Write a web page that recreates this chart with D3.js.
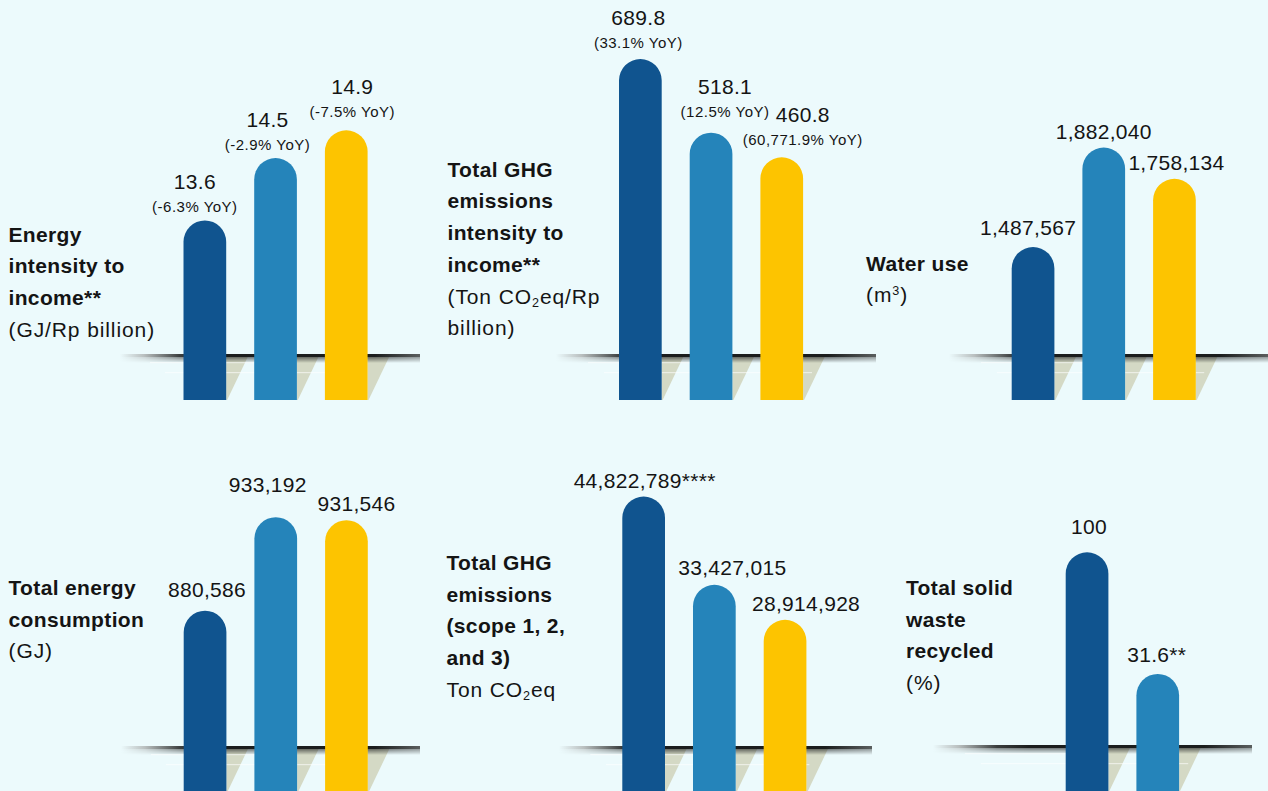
<!DOCTYPE html>
<html>
<head>
<meta charset="utf-8">
<script src="https://cdn.jsdelivr.net/npm/d3@7/dist/d3.min.js"></script>
<style>
  html, body { margin: 0; padding: 0; background: #ecfafc; }
  svg { display: block; }
  text { font-family: "Liberation Sans", Arial, Helvetica, sans-serif; fill: #141414; }
</style>
</head>
<body>
<svg id="chart" width="1268" height="791"></svg>
<script>
// ---- data -------------------------------------------------------------
const years = ["2021", "2022", "2023"];

const energyIntensity    = [13.6, 14.5, 14.9];
const energyIntensityYoY = ["-6.3%", "-2.9%", "-7.5%"];

const ghgIntensity    = [689.8, 518.1, 460.8];
const ghgIntensityYoY = ["33.1%", "12.5%", "60,771.9%"];

const waterUse = [1487567, 1882040, 1758134];

const energyConsumption = [880586, 933192, 931546];

const ghgTotal      = [44822789, 33427015, 28914928];
const ghgTotalNotes = ["****", "", ""];

const wasteRecycled      = [100, 31.6];
const wasteRecycledNotes = ["", "**"];

const barColors = ["#10548f", "#2584ba", "#fdc400"];

// ---- panel layout -----------------------------------------------------
const panels = [
  { values: energyIntensity, yoy: energyIntensityYoY,
    title: ["Energy", "intensity to", "income**"], unit: ["(GJ/Rp billion)"],
    titleX: 8.5, titleY: 241.7,
    x0: 183.5, floorY: 355, bottomY: 400, floorX: [120, 420],
    domain: [11.66, 14.9], maxH: 224.7,
    nudge: [[-10, 0], [-8, 0], [6, -5]] },
  { values: ghgIntensity, yoy: ghgIntensityYoY,
    title: ["Total GHG", "emissions", "intensity to", "income**"],
    unit: ["(Ton CO_{2}eq/Rp", "billion)"],
    titleX: 447.5, titleY: 176.7,
    x0: 619, floorY: 355, bottomY: 400, floorX: [556, 876],
    domain: [0, 689.8], maxH: 296,
    nudge: [[-2, -3], [14, -8], [21, -4]] },
  { values: waterUse,
    title: ["Water use"], unit: ["(m^{3})"],
    titleX: 866, titleY: 270.7,
    x0: 1011.7, floorY: 355, bottomY: 400, floorX: [949, 1268],
    domain: [1059500, 1882040], maxH: 207.4,
    nudge: [[-5, -3], [0, 0], [2, 0]] },
  { values: energyConsumption,
    title: ["Total energy", "consumption"], unit: ["(GJ)"],
    titleX: 8.5, titleY: 595,
    x0: 183.7, floorY: 747, bottomY: 800, floorX: [121, 420],
    domain: [803900, 933192], maxH: 229.8,
    nudge: [[2, -5], [-8, -16], [10, 0]] },
  { values: ghgTotal, notes: ghgTotalNotes,
    title: ["Total GHG", "emissions", "(scope 1, 2,", "and 3)"], unit: ["Ton CO_{2}eq"],
    titleX: 446.5, titleY: 570,
    x0: 622.3, floorY: 747, bottomY: 800, floorX: [559, 872],
    domain: [12480000, 44822789], maxH: 250.4,
    nudge: [[1, 0], [18, -1], [21, 0]] },
  { values: wasteRecycled, notes: wasteRecycledNotes,
    title: ["Total solid", "waste", "recycled"], unit: ["(%)"],
    titleX: 906, titleY: 595,
    x0: 1065.7, floorY: 746, bottomY: 800, floorX: [933, 1252],
    domain: [-8.9, 100], maxH: 193.7,
    nudge: [[2, -9], [-1, -3]] }
];

const BAR_STEP = 70.7, BAR_W = 42.7, LINE_H = 31.7;
const SHADOW_W = 22, SHADOW_H = 46;

const svg = d3.select("#chart");
svg.append("rect").attr("width", 1268).attr("height", 791).attr("fill", "#ecfafc");

// floor gradient: fades in from the left, stays dark under the bars
const defs = svg.append("defs");
const fg = defs.append("linearGradient").attr("id", "floorGrad");
[[0, "#ecfafc"], [0.08, "#b9bfbf"], [0.2, "#3a3d3d"], [0.3, "#1b1d1d"],
 [0.85, "#1b1d1d"], [1, "#5a5e5e"]].forEach(([o, c]) =>
  fg.append("stop").attr("offset", o).attr("stop-color", c));
const fade = defs.append("linearGradient").attr("id", "floorFade")
  .attr("x1", 0).attr("x2", 0).attr("y1", 0).attr("y2", 1);
fade.append("stop").attr("offset", 0).attr("stop-color", "#fff").attr("stop-opacity", 1);
fade.append("stop").attr("offset", 1).attr("stop-color", "#fff").attr("stop-opacity", 0);
defs.append("mask").attr("id", "fadeMask").attr("maskContentUnits", "objectBoundingBox")
  .append("rect").attr("width", 1).attr("height", 1).attr("fill", "url(#floorFade)");

const fmt = d3.format(",");

// write a line that may hold _{sub} or ^{sup} runs
function richText(sel, str, size) {
  const re = /(_|\^)\{(.*?)\}/g;
  let last = 0, m;
  while ((m = re.exec(str)) !== null) {
    if (m.index > last) sel.append("tspan").text(str.slice(last, m.index));
    sel.append("tspan")
      .attr("font-size", size * 0.6)
      .attr("baseline-shift", m[1] === "_" ? "-22%" : "55%")
      .text(m[2]);
    last = re.lastIndex;
  }
  if (last < str.length) sel.append("tspan").text(str.slice(last));
}

panels.forEach(p => {
  const g = svg.append("g");
  const cats = years.slice(0, p.values.length);

  const x = d3.scaleBand()
    .domain(years)
    .range([p.x0, p.x0 + 2 * BAR_STEP + BAR_W])
    .paddingInner(1 - BAR_W / BAR_STEP)
    .paddingOuter(0);
  const y = d3.scaleLinear()
    .domain(p.domain)
    .range([p.floorY, p.floorY - p.maxH]);

  const rows = cats.map((c, i) => ({ c, i, v: p.values[i] }));
  const bw = x.bandwidth(), r = bw / 2;

  // cast shadows on the floor
  g.selectAll("path.shadow").data(rows).join("path")
    .attr("class", "shadow")
    .attr("fill", "#d4d9c5")
    .attr("d", d => {
      const xr = x(d.c) + bw, f = p.floorY + 1;
      const h = Math.min(SHADOW_H, p.bottomY - f);
      const w = SHADOW_W * (1 - h / SHADOW_H);
      return `M${xr},${f}L${xr + SHADOW_W},${f}L${xr + w},${f + h}L${xr},${f + h}Z`;
    });

  // floor line
  const fx0 = p.floorX[0], fw = p.floorX[1] - p.floorX[0];
  g.append("rect").attr("x", fx0).attr("y", p.floorY + 2).attr("width", fw).attr("height", 6)
    .attr("fill", "url(#floorGrad)").attr("opacity", 0.6).attr("mask", "url(#fadeMask)");
  g.append("rect").attr("x", fx0).attr("y", p.floorY - 1).attr("width", fw).attr("height", 3)
    .attr("fill", "url(#floorGrad)");
  // faint reflections below the floor
  [[7, 0.1, 0.55], [17, 0.15, 0.8]].forEach(([dy, a, b]) =>
    g.append("rect").attr("x", fx0 + fw * a).attr("y", p.floorY + dy)
      .attr("width", fw * (b - a)).attr("height", 1.2)
      .attr("fill", "#ffffff").attr("opacity", 0.55));

  // bars with rounded tops
  g.selectAll("path.bar").data(rows).join("path")
    .attr("class", "bar")
    .attr("fill", d => barColors[d.i])
    .attr("d", d => {
      const x0 = x(d.c), top = y(d.v);
      return `M${x0},${p.bottomY}V${top + r}A${r},${r} 0 0 1 ${x0 + bw},${top + r}V${p.bottomY}Z`;
    });

  // value labels
  rows.forEach(d => {
    const cx = x(d.c) + bw / 2 + p.nudge[d.i][0];
    const top = y(d.v) + p.nudge[d.i][1];
    const note = p.notes ? p.notes[d.i] : "";
    if (p.yoy) {
      g.append("text").attr("x", cx).attr("y", top - 31).attr("text-anchor", "middle")
        .attr("font-size", 21).attr("letter-spacing", 0.3)
        .text(fmt(d.v) + note);
      g.append("text").attr("x", cx).attr("y", top - 8).attr("text-anchor", "middle")
        .attr("font-size", 15).attr("letter-spacing", 0.5)
        .text(`(${p.yoy[d.i]} YoY)`);
    } else {
      g.append("text").attr("x", cx).attr("y", top - 9).attr("text-anchor", "middle")
        .attr("font-size", 21).attr("letter-spacing", 0.3)
        .text(fmt(d.v) + note);
    }
  });

  // panel title and unit
  p.title.forEach((line, k) => {
    g.append("text").attr("x", p.titleX).attr("y", p.titleY + k * LINE_H)
      .attr("font-size", 21).attr("font-weight", "bold").attr("letter-spacing", 0.35)
      .text(line);
  });
  p.unit.forEach((line, k) => {
    const t = g.append("text").attr("x", p.titleX)
      .attr("y", p.titleY + (p.title.length + k) * LINE_H)
      .attr("font-size", 21).attr("letter-spacing", 0.9);
    richText(t, line, 21);
  });
});
</script>
</body>
</html>
